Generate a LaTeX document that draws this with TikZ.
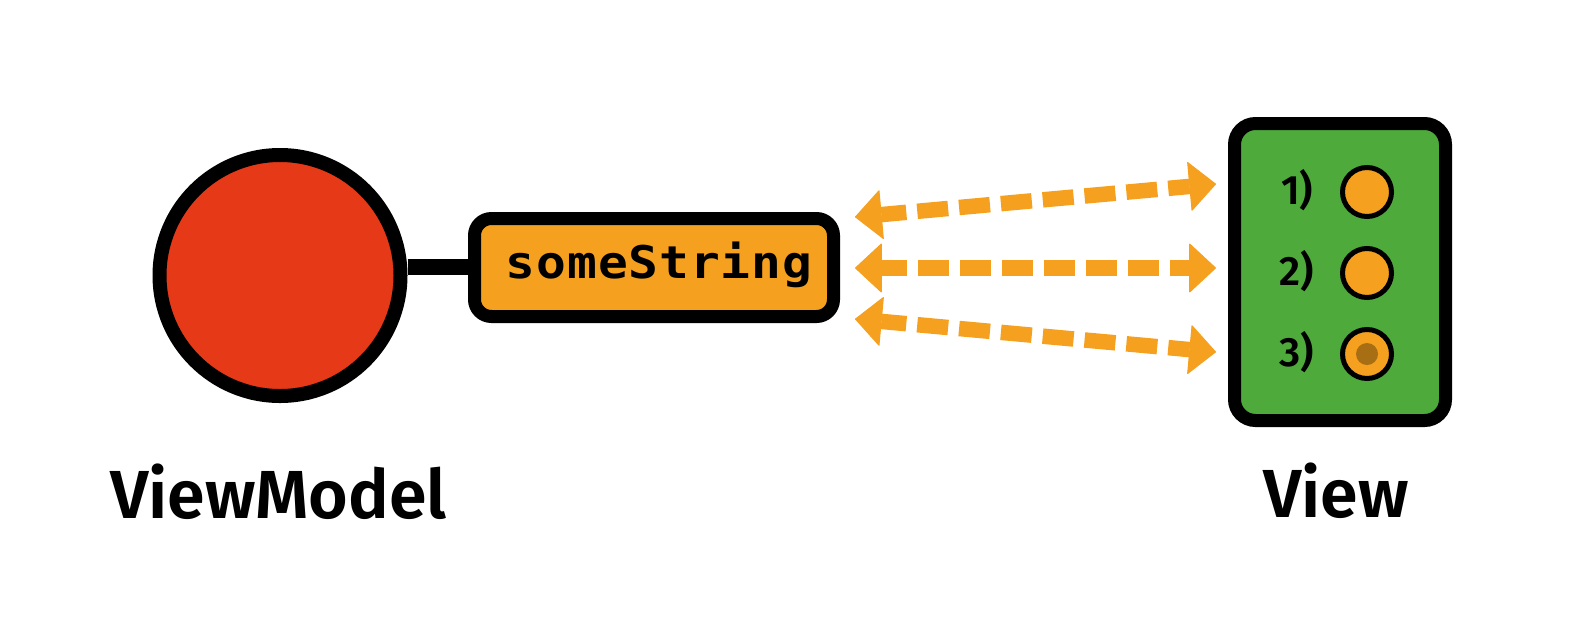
\documentclass[tikz,border=0pt]{standalone}
\usepackage{fontspec}
\setmainfont{Fira Sans}[BoldFont={Fira Sans SemiBold}]
\newfontfamily\codefont{DejaVu Sans Mono}[FakeStretch=1.1, LetterSpace=2]
\usetikzlibrary{arrows.meta}
\definecolor{vmred}{HTML}{E53917}
\definecolor{strorange}{HTML}{F5A01F}
\definecolor{viewgreen}{HTML}{4EAB3B}
\definecolor{dotbrown}{HTML}{A86E14}
\tikzset{
  heavy/.style={draw=black, line width=13pt},
  bitip/.tip={Triangle[length=27pt,width=50pt,line width=1pt,round]},
  biarrow/.style={draw=strorange, line width=15.5pt, dash pattern=on 31pt off 11pt, dash phase=6pt,
    bitip-bitip},
  knob/.style={circle, draw=black, line width=5pt, fill=strorange, minimum size=49pt, inner sep=0pt},
  numlabel/.style={font=\fontsize{41}{41}\selectfont\bfseries, inner sep=0pt, anchor=base},
  biglabel/.style={font=\fontsize{68}{68}\selectfont\bfseries, inner sep=0pt, anchor=base}
}
\begin{document}
\begin{tikzpicture}[x=1pt,y=-1pt]
\useasboundingbox (0,0) rectangle (1583,625);
% ViewModel circle
\node[circle, draw=black, line width=14pt, fill=vmred, minimum size=241pt, inner sep=0pt] (vm) at (280,275.5) {};
% someString box
\node[heavy, fill=strorange, rounded corners=17pt, minimum width=359pt, minimum height=98pt, inner sep=0pt] (str) at (654,267.5) {};
\node[font=\codefont\bfseries\fontsize{45}{45}\selectfont, inner sep=0pt, anchor=base] (strtext) at (659,278) {someString};
\coordinate (join) at (vm.east |- 0,267);
\draw[black, line width=16pt] (join) -- (str.west |- join);
% View box
\node[heavy, fill=viewgreen, rounded corners=21pt, minimum width=211pt, minimum height=297pt, inner sep=0pt] (view) at (1340,272) {};
% knobs
\node[knob] (k1) at (1367,192) {};
\node[knob] (k2) at (1367,273) {};
\node[knob] (k3) at (1367,354) {};
\fill[dotbrown] (k3.center) circle (11pt);
\node[numlabel] (n1) at (1297,204) {1)};
\node[numlabel] (n2) at (1297,285) {2)};
\node[numlabel] (n3) at (1297,366) {3)};
% arrows
\coordinate (a1l) at (855,217);
\coordinate (a1r) at (1216,184);
\coordinate (a2l) at (855,268);
\coordinate (a2r) at (1216,268);
\coordinate (a3l) at (855,319);
\coordinate (a3r) at (1216,352);
\draw[biarrow] (a1l) -- (a1r);
\draw[biarrow] (a2l) -- (a2r);
\draw[biarrow] (a3l) -- (a3r);
% labels
\node[biglabel] (lvm) at (278.5,518) {ViewModel};
\node[biglabel] (lview) at (1336,517) {View};
\end{tikzpicture}
\end{document}
